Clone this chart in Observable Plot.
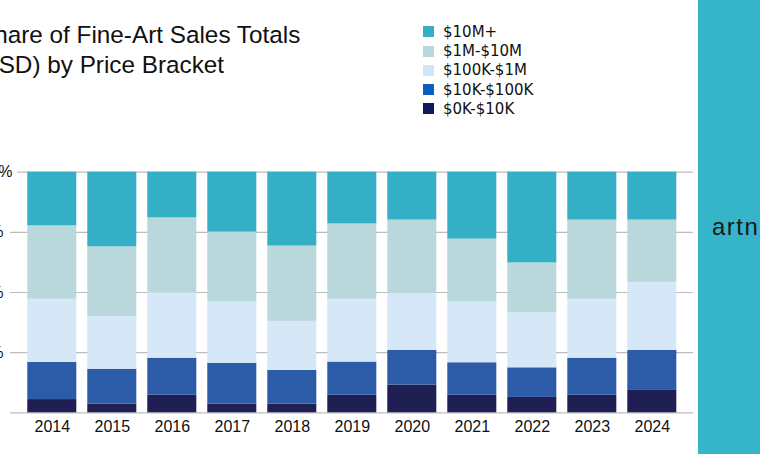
<!DOCTYPE html>
<html>
<head>
<meta charset="utf-8">
<script src="https://cdn.jsdelivr.net/npm/d3@7"></script>
<script src="https://cdn.jsdelivr.net/npm/@observablehq/plot@0.6"></script>
<style>
  html, body { margin: 0; padding: 0; background: #fff; }
  body { width: 760px; height: 454px; overflow: hidden; display: flex; font-family: "Liberation Sans", Arial, sans-serif; color: #111; }
  #main { width: 698px; height: 454px; position: relative; overflow: hidden; }
  #header { position: relative; height: 150px; }
  .tl { position: absolute; font-size: 24.3px; line-height: 30px; white-space: nowrap; color: #111; }
  #t1 { left: -22px; top: 20px; }
  #t2 { left: -27px; top: 50px; }
  #legend { position: absolute; left: 423px; top: 22.4px; font-family: "DejaVu Sans", sans-serif; font-size: 15px; color: #111; }
  .row { height: 19.2px; display: flex; align-items: center; }
  .sw { width: 11px; height: 11px; margin-right: 9px; }
  #side { width: 62px; height: 454px; background: #36b4c9; position: relative; overflow: hidden; }
  #logo { position: absolute; left: 14px; top: 215px; font-size: 24px; line-height: 24px; letter-spacing: 1.5px; white-space: nowrap; color: #1a1a1a; }
</style>
</head>
<body>
<div id="main">
  <div id="header">
    <div class="tl" id="t1">Share of Fine-Art Sales Totals</div>
    <div class="tl" id="t2">(USD) by Price Bracket</div>
    <div id="legend"></div>
  </div>
  <div id="chart"></div>
</div>
<div id="side"><div id="logo">artnet</div></div>
<script>
const years = ["2014","2015","2016","2017","2018","2019","2020","2021","2022","2023","2024"];
const brackets = ["$0K-$10K","$10K-$100K","$100K-$1M","$1M-$10M","$10M+"];
const legendOrder = ["$10M+","$1M-$10M","$100K-$1M","$10K-$100K","$0K-$10K"];
const colors = ["#201f54","#2c5ba7","#d6e8f8","#b8d8dc","#35afc6"];
const legendColors = ["#0c1b5c","#0d5cc0","#cfe5fa","#b8d8dc","#35afc6"];
const share0to10K    = [5.5, 3.6, 7.3, 3.6, 3.6, 7.3, 11.5, 7.3, 6.4, 7.3, 9.3];
const share10Kto100K = [15.4, 14.5, 15.4, 17.0, 14.0, 13.8, 14.4, 13.5, 12.3, 15.4, 16.6];
const share100Kto1M  = [26.3, 21.9, 27.2, 25.4, 20.4, 26.1, 23.8, 25.2, 22.9, 24.5, 28.3];
const share1Mto10M   = [30.5, 29.0, 31.1, 29.1, 31.3, 31.3, 30.4, 26.2, 20.7, 32.9, 25.9];
const share10Mplus   = [22.3, 31.0, 19.0, 24.9, 30.7, 21.5, 19.9, 27.8, 37.7, 19.9, 19.9];
const yTicks = [0, 25, 50, 75, 100];

const series = [share0to10K, share10Kto100K, share100Kto1M, share1Mto10M, share10Mplus];
const data = years.flatMap((year, i) => brackets.map((bracket, j) => ({year, bracket, share: series[j][i]})));

// legend
const lg = document.getElementById("legend");
legendOrder.forEach(b => {
  const r = document.createElement("div"); r.className = "row";
  const s = document.createElement("div"); s.className = "sw";
  s.style.background = legendColors[brackets.indexOf(b)];
  const t = document.createElement("span"); t.textContent = b;
  r.appendChild(s); r.appendChild(t); lg.appendChild(r);
});

const grid = {stroke: "#bcbcbc", strokeWidth: 1.2};
const chart = Plot.plot({
  width: 698,
  height: 304,
  marginLeft: 10,
  marginRight: 5,
  marginTop: 21.7,
  marginBottom: 41.7,
  x: {domain: years, range: [16.3, 687.3], padding: 0.183, paddingInner: 0.183, paddingOuter: 0.183, round: false, label: null},
  y: {domain: [0, 100], label: null},
  color: {domain: brackets, range: colors},
  style: {fontFamily: "'Liberation Sans', Arial, sans-serif", fontSize: "16px", color: "#111", background: "transparent", overflow: "visible"},
  marks: [
    Plot.ruleY(yTicks.filter(d => d < 100), grid),
    Plot.ruleY(yTicks.filter(d => d === 100), {...grid, insetLeft: 7}),
    Plot.barY(data, {x: "year", y: "share", fill: "bracket", order: brackets}),
    Plot.axisX({tickSize: 0, tickPadding: 8, fontSize: 16, label: null}),
    Plot.axisY({ticks: yTicks, tickSize: 0, tickPadding: 3, textAnchor: "start", dx: -36, fontSize: 16, tickFormat: d => d + "%", label: null})
  ]
});
document.getElementById("chart").appendChild(chart);
</script>
</body>
</html>
